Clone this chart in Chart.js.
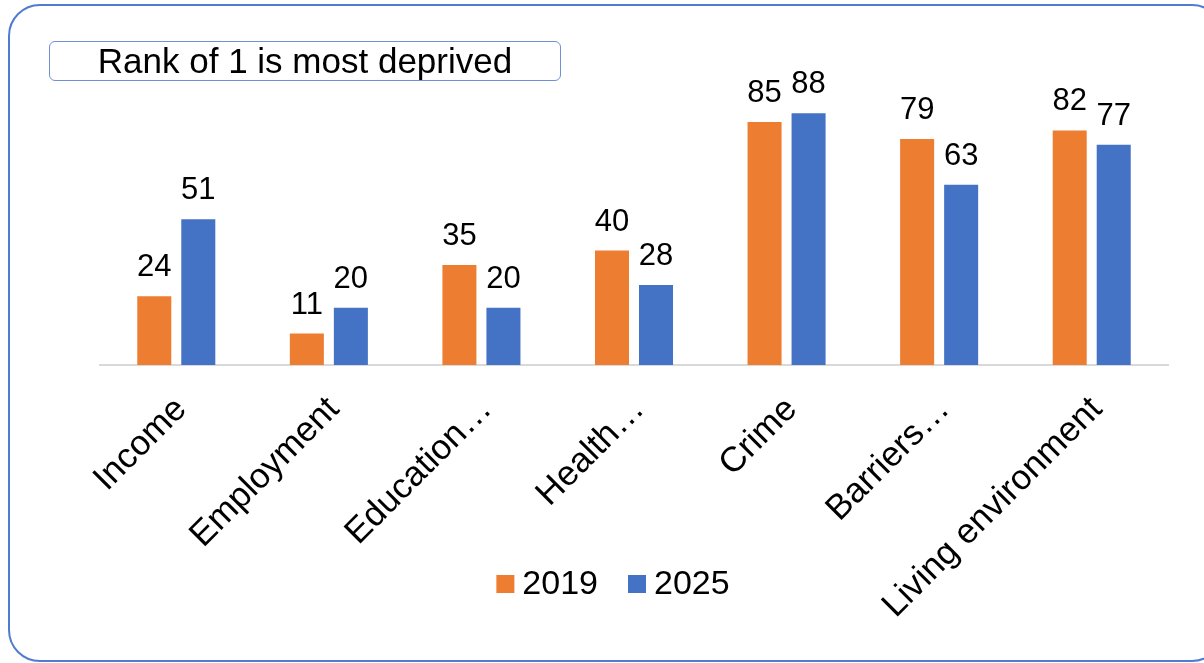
<!DOCTYPE html>
<html>
<head>
<meta charset="utf-8">
<script src="https://cdn.jsdelivr.net/npm/chart.js@4.4.1/dist/chart.umd.min.js"></script>
<style>
  html, body { margin: 0; padding: 0; background: #fff; overflow: hidden; }
  body { width: 1204px; height: 663px; position: relative; font-family: 'Liberation Sans', Arial, sans-serif; }
  .frame {
    position: absolute; left: 8px; top: 4px; width: 1216px; height: 658px;
    border: 2.5px solid #4f7bd0; border-radius: 32px; box-sizing: border-box;
  }
  .note {
    position: absolute; left: 49px; top: 41px; width: 512px; height: 40px;
    border: 1.5px solid #6f8fd6; border-radius: 6px; box-sizing: border-box;
    font-size: 35px; line-height: 38px; text-align: center; color: #000;
  }
  canvas { position: absolute; left: 0; top: 0; }
</style>
</head>
<body>
<div class="frame"></div>
<canvas id="chart" width="1204" height="663"></canvas>
<div class="note">Rank of 1 is most deprived</div>
<script>
const categories = ['Income', 'Employment', 'Education\u2026', 'Health\u2026', 'Crime', 'Barriers\u2026', 'Living environment'];
const rank2019 = [24, 11, 35, 40, 85, 79, 82];
const rank2025 = [51, 20, 20, 28, 88, 63, 77];

const FONT = "'Liberation Sans', Arial, sans-serif";

// value labels above each bar
const barLabels = {
    id: 'barLabels',
    afterDatasetsDraw(chart) {
        const ctx = chart.ctx;
        ctx.save();
        ctx.font = '31px ' + FONT;
        ctx.fillStyle = '#000';
        ctx.textAlign = 'center';
        ctx.textBaseline = 'alphabetic';
        chart.data.datasets.forEach((ds, i) => {
            chart.getDatasetMeta(i).data.forEach((bar, j) => {
                ctx.fillText(String(ds.data[j]), bar.x, bar.y - 20);
            });
        });
        ctx.restore();
    }
};

// legend drawn over the label area, like the original
const bottomLegend = {
    id: 'bottomLegend',
    afterDraw(chart) {
        const ctx = chart.ctx;
        const box = 18, gap = 8, itemGap = 30;
        ctx.save();
        ctx.font = '34px ' + FONT;
        ctx.textBaseline = 'middle';
        ctx.textAlign = 'left';
        const items = chart.data.datasets.map(ds => ({
            text: ds.label, color: ds.backgroundColor, w: box + gap + ctx.measureText(ds.label).width
        }));
        const total = items.reduce((s, it) => s + it.w, 0) + itemGap * (items.length - 1);
        let x = 613 - total / 2;
        const y = 584;
        items.forEach(it => {
            ctx.fillStyle = it.color;
            ctx.fillRect(x, y - box / 2, box, box);
            ctx.fillStyle = '#000';
            ctx.fillText(it.text, x + box + gap, y + 1);
            x += it.w + itemGap;
        });
        ctx.restore();
    }
};

new Chart(document.getElementById('chart'), {
    type: 'bar',
    data: {
        labels: categories,
        datasets: [
            { label: '2019', data: rank2019, backgroundColor: '#ed7d31' },
            { label: '2025', data: rank2025, backgroundColor: '#4472c4' }
        ]
    },
    options: {
        responsive: false,
        animation: false,
        devicePixelRatio: 1,
        categoryPercentage: 0.577,
        barPercentage: 0.773,
        layout: { padding: { left: 100, right: 36, top: 79, bottom: 0 } },
        plugins: {
            legend: { display: false },
            tooltip: { enabled: false }
        },
        scales: {
            x: {
                grid: { display: false, drawTicks: false },
                border: { display: true, color: '#d9d9d9', width: 2 },
                ticks: {
                    color: '#000',
                    font: { family: FONT, size: 35 },
                    maxRotation: 45,
                    minRotation: 45,
                    padding: 24,
                    labelOffset: 5,
                    autoSkip: false
                },
                afterFit(scale) { scale.height = 298; }
            },
            y: {
                display: false,
                min: 0,
                max: 100
            }
        }
    },
    plugins: [barLabels, bottomLegend]
});
</script>
</body>
</html>
